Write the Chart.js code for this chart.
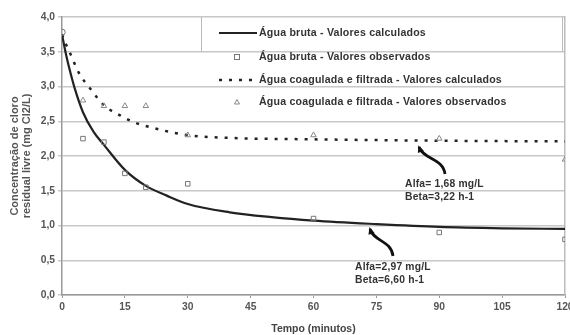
<!DOCTYPE html>
<html>
<head>
<meta charset="utf-8">
<script src="https://cdn.jsdelivr.net/npm/chart.js@4/dist/chart.umd.min.js"></script>
<style>
  html, body { margin: 0; padding: 0; background: #fff; overflow: hidden; }
  #wrap { width: 570px; height: 335px; }
</style>
</head>
<body>
<div id="wrap"><canvas id="cloroChart" width="570" height="335"></canvas></div>
<script>
// Data
const rawCalcT = [0, 1, 2, 3, 5, 7.5, 10, 15, 20, 25, 30, 40, 50, 60, 75, 90, 105, 120];
const rawCalcC = [3.75, 3.45, 3.2, 2.98, 2.63, 2.35, 2.16, 1.8, 1.57, 1.43, 1.31, 1.19, 1.12, 1.07, 1.02, 0.98, 0.96, 0.95];

const coagCalcT = [0, 1, 2, 4, 7, 10, 14, 17, 22, 30, 40, 60, 90, 120];
const coagCalcC = [3.75, 3.6, 3.47, 3.2, 2.95, 2.73, 2.58, 2.49, 2.4, 2.3, 2.26, 2.24, 2.22, 2.21];

const rawObsT = [0, 5, 10, 15, 20, 30, 60, 90, 120];
const rawObsC = [3.78, 2.25, 2.2, 1.75, 1.55, 1.6, 1.1, 0.9, 0.8];

const coagObsT = [5, 10, 15, 20, 30, 60, 90, 120];
const coagObsC = [2.8, 2.72, 2.72, 2.72, 2.3, 2.3, 2.25, 1.95];

const seriesLabels = [
    'Água bruta - Valores calculados',
    'Água bruta - Valores observados',
    'Água coagulada e filtrada - Valores calculados',
    'Água coagulada e filtrada - Valores observados'
];

const FONT = '"Liberation Sans", Arial, sans-serif';
const toPoints = (ts, cs) => ts.map((t, i) => ({ x: t, y: cs[i] }));

// legend + annotations drawn inside the plot
const overlay = {
    id: 'overlay',
    afterDraw(chart) {
        const c = chart.ctx;
        const ds = chart.data.datasets;
        c.save();
        c.textBaseline = 'middle';
        c.textAlign = 'left';

        // legend border bits
        c.strokeStyle = '#bbb';
        c.lineWidth = 1;
        c.beginPath();
        c.moveTo(201.5, 17); c.lineTo(201.5, 52);
        c.moveTo(562.5, 17); c.lineTo(562.5, 52);
        c.stroke();

        const rows = [33, 57, 80, 102];
        // solid sample
        c.strokeStyle = '#222'; c.lineWidth = 2; c.setLineDash([]);
        c.beginPath(); c.moveTo(219, rows[0]); c.lineTo(257, rows[0]); c.stroke();
        // square sample
        c.strokeStyle = '#777'; c.lineWidth = 1;
        c.strokeRect(234.5, rows[1] - 2.5, 5, 5);
        // dashed sample
        c.strokeStyle = '#222'; c.lineWidth = 2.5; c.setLineDash([3, 7]);
        c.beginPath(); c.moveTo(219, rows[2]); c.lineTo(257, rows[2]); c.stroke();
        c.setLineDash([]);
        // triangle sample
        c.strokeStyle = '#888'; c.lineWidth = 1;
        c.beginPath(); c.moveTo(237, rows[3] - 2.5); c.lineTo(239.5, rows[3] + 2); c.lineTo(234.5, rows[3] + 2); c.closePath(); c.stroke();

        c.fillStyle = '#333';
        c.font = 'bold 10.6px ' + FONT;
        c.letterSpacing = '0.2px';
        ds.forEach((d, i) => c.fillText(d.label, 259, rows[i]));

        // annotations
        c.font = 'bold 10.3px ' + FONT;
        c.fillText('Alfa= 1,68 mg/L', 405, 184);
        c.fillText('Beta=3,22 h-1', 405, 197);
        c.fillText('Alfa=2,97 mg/L', 355, 267);
        c.fillText('Beta=6,60 h-1', 355, 280);
        c.letterSpacing = '0px';

        const arrow = (x0, y0, cx1, cy1, cx2, cy2, x1, y1) => {
            c.strokeStyle = '#111'; c.lineWidth = 2.8;
            c.beginPath(); c.moveTo(x0, y0);
            c.bezierCurveTo(cx1, cy1, cx2, cy2, x1, y1);
            c.stroke();
            const a = Math.atan2(y1 - cy2, x1 - cx2);
            c.fillStyle = '#111';
            c.beginPath();
            c.moveTo(x1 + 2 * Math.cos(a), y1 + 2 * Math.sin(a));
            c.lineTo(x1 - 6 * Math.cos(a - 0.55), y1 - 6 * Math.sin(a - 0.55));
            c.lineTo(x1 - 6 * Math.cos(a + 0.55), y1 - 6 * Math.sin(a + 0.55));
            c.closePath(); c.fill();
        };
        arrow(445, 174, 443, 158, 424, 160, 419, 147);
        arrow(393, 256, 391, 240, 374, 242, 370, 229);
        c.restore();
    }
};

const ctx = document.getElementById('cloroChart').getContext('2d');
new Chart(ctx, {
    type: 'scatter',
    data: {
        datasets: [{
            label: seriesLabels[0],
            data: toPoints(rawCalcT, rawCalcC),
            showLine: true,
            borderColor: '#222',
            borderWidth: 2.2,
            pointRadius: 0,
            cubicInterpolationMode: 'monotone',
            order: 2
        }, {
            label: seriesLabels[1],
            data: toPoints(rawObsT, rawObsC),
            pointStyle: rawObsT.map(t => t === 0 ? 'circle' : 'rect'),
            pointRadius: 3.2,
            borderColor: '#777',
            borderWidth: 1,
            backgroundColor: 'rgba(255,255,255,0)',
            order: 1
        }, {
            label: seriesLabels[2],
            data: toPoints(coagCalcT, coagCalcC),
            showLine: true,
            borderColor: '#222',
            borderWidth: 2.5,
            borderDash: [3, 7],
            pointRadius: 0,
            cubicInterpolationMode: 'monotone',
            order: 3
        }, {
            label: seriesLabels[3],
            data: toPoints(coagObsT, coagObsC),
            pointStyle: 'triangle',
            pointRadius: 3.2,
            borderColor: '#888',
            borderWidth: 1,
            backgroundColor: 'rgba(255,255,255,0)',
            order: 1
        }]
    },
    options: {
        responsive: false,
        animation: false,
        layout: { padding: { left: 0, right: 4, top: 17, bottom: 0 } },
        plugins: { legend: { display: false }, tooltip: { enabled: false } },
        scales: {
            x: {
                type: 'linear', min: 0, max: 120,
                ticks: {
                    stepSize: 15, color: '#555', padding: 3,
                    font: { family: FONT, size: 10.3, weight: 'bold' }
                },
                grid: { drawOnChartArea: false, color: '#999', tickLength: 3 },
                border: { color: '#999', width: 1.5 },
                title: {
                    display: true, text: 'Tempo (minutos)', color: '#444', padding: { top: 3, bottom: 0 },
                    font: { family: FONT, size: 10.5, weight: 'bold' }
                },
                afterFit(s) { s.height = 40; s.paddingLeft = 0; s.paddingRight = 0; }
            },
            y: {
                min: 0, max: 4,
                ticks: {
                    stepSize: 0.5, color: '#555', padding: 3,
                    font: { family: FONT, size: 10.3, weight: 'bold' },
                    callback: v => v.toFixed(1).replace('.', ',')
                },
                grid: { color: '#c8c8c8', lineWidth: 1.5, tickLength: 4 },
                border: { color: '#999', width: 1.5 },
                title: {
                    display: true, text: ['Concentração de cloro', 'residual livre (mg Cl2/L)'], color: '#555',
                    padding: { top: 9, bottom: 0 },
                    font: { family: FONT, size: 11, weight: 'bold', lineHeight: 1.1 }
                },
                afterFit(s) { s.width = 62; s.paddingTop = 0; s.paddingBottom = 0; }
            },
            y2: {
                position: 'right', min: 0, max: 4,
                ticks: { display: false },
                grid: { display: false },
                border: { color: '#bbb', width: 1.5 },
                afterFit(s) { s.width = 0; }
            }
        }
    },
    plugins: [overlay]
});
</script>
</body>
</html>
